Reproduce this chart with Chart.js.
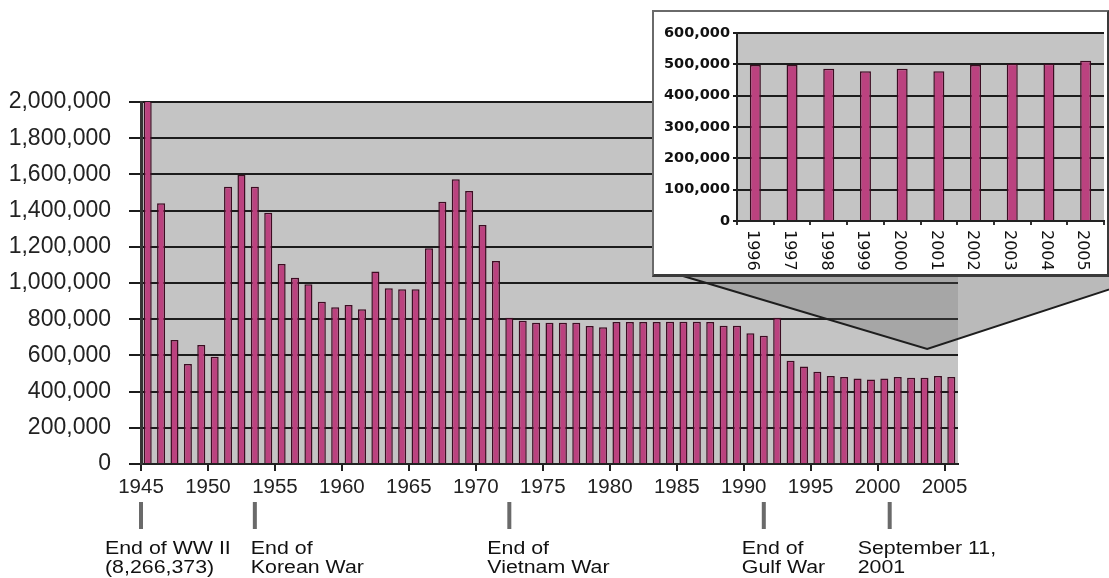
<!DOCTYPE html>
<html>
<head>
<meta charset="utf-8">
<script src="https://cdn.jsdelivr.net/npm/chart.js@4.4.1/dist/chart.umd.min.js"></script>
<style>
  body { margin: 0; background: #fff; overflow: hidden; }
  #wrap { position: relative; width: 1109px; height: 578px; }
  #main { position: absolute; left: 0; top: 0; }
  #insetBox { position: absolute; left: 652px; top: 10px; width: 453px; height: 262px;
    border: 2px solid #6a6a6a; border-bottom: 3px solid #3a3a3a; border-right-color: #3a3a3a;
    background: #fff; overflow: hidden; z-index: 2; }
</style>
</head>
<body>
<div id="wrap">
  <canvas id="main" width="1109" height="578"></canvas>
  <div id="insetBox"><canvas id="inset" width="453" height="262"></canvas></div>
</div>
<script>
// yearly values, 1945 - 2005
let years = [1945,1946,1947,1948,1949,1950,1951,1952,1953,1954,
  1955,1956,1957,1958,1959,1960,1961,1962,1963,1964,
  1965,1966,1967,1968,1969,1970,1971,1972,1973,1974,
  1975,1976,1977,1978,1979,1980,1981,1982,1983,1984,
  1985,1986,1987,1988,1989,1990,1991,1992,1993,1994,
  1995,1996,1997,1998,1999,2000,2001,2002,2003,2004,2005];

let values = [8266373,1440000,685000,552000,657000,593000,1532000,1597000,1532000,1388000,
  1105000,1029000,993000,897000,866000,878000,855000,1063000,971000,965000,
  965000,1192000,1449000,1573000,1508000,1320000,1121000,808000,792000,781000,
  781000,781000,781000,762000,755000,785000,785000,785000,785000,786000,
  786000,786000,785000,764000,764000,722000,709000,808000,571000,538000,
  510000,486000,481000,473000,467000,473000,481000,476000,476000,486000,481000];

// zoomed inset
let insetYears = ['1996','1997','1998','1999','2000','2001','2002','2003','2004','2005'];
let insetValues = [497500,497500,485800,478300,485800,478300,497500,501800,501800,511400];

// events under the axis
let eventYears = [1944.5, 1953, 1972, 1991, 2000.4];
let eventText = [
  ['End of WW II', '(8,266,373)'],
  ['End of', 'Korean War'],
  ['End of', 'Vietnam War'],
  ['End of', 'Gulf War'],
  ['September 11,', '2001']
];
let eventShift = [-36, -4, -22, -22, -32];

let barFill = '#bb427f';
let barEdge = '#3d0c22';
let plotGrey = '#c4c4c4';

function fmt(v){ return Number(v).toLocaleString('en-US'); }

let plotBack = {
  id: 'plotBack',
  beforeDraw(chart){
    let a = chart.chartArea, ctx = chart.ctx;
    ctx.save();
    ctx.fillStyle = plotGrey;
    ctx.fillRect(a.left, a.top, a.right - a.left, a.bottom - a.top);
    ctx.restore();
  }
};

function wedgePath(ctx, ax, ay){
  ctx.beginPath();
  ctx.moveTo(683, 276);
  ctx.lineTo(ax, ay);
  ctx.lineTo(1150, 276);
}

let zoomWedge = {
  id: 'zoomWedge',
  beforeDatasetsDraw(chart){
    let ctx = chart.ctx, a = chart.chartArea;
    let xs = chart.scales.x, ys = chart.scales.y;
    let ax = xs.getPixelForValue(58.2), ay = ys.getPixelForValue(635000);
    ctx.save();
    wedgePath(ctx, ax, ay);
    ctx.closePath();
    ctx.fillStyle = 'rgba(90,90,90,0.28)';
    ctx.fill();
    // a bit darker where it hangs past the plot
    ctx.save();
    ctx.beginPath();
    ctx.rect(a.right, 0, 400, 578);
    ctx.clip();
    wedgePath(ctx, ax, ay);
    ctx.closePath();
    ctx.fillStyle = 'rgba(90,90,90,0.2)';
    ctx.fill();
    ctx.restore();
    wedgePath(ctx, ax, ay);
    ctx.strokeStyle = '#1e1e1e';
    ctx.lineWidth = 2;
    ctx.stroke();
    ctx.restore();
  }
};

let events = {
  id: 'events',
  afterDraw(chart){
    let ctx = chart.ctx, xs = chart.scales.x;
    ctx.save();
    for (let i = 0; i < eventYears.length; i++) {
      let x = xs.getPixelForValue(eventYears[i] - 1945);
      ctx.fillStyle = '#6a6a6a';
      ctx.fillRect(x - 2, 502, 4, 27);
      ctx.fillStyle = '#111';
      ctx.font = '17.5px "Liberation Sans", Arial, sans-serif';
      ctx.textBaseline = 'alphabetic';
      for (let j = 0; j < eventText[i].length; j++) {
        ctx.save();
        ctx.translate(x + eventShift[i], 554 + j * 19);
        ctx.scale(1.22, 1);
        ctx.fillText(eventText[i][j], 0, 0);
        ctx.restore();
      }
    }
    ctx.restore();
  }
};

new Chart(document.getElementById('main'), {
  type: 'bar',
  data: {
    labels: years,
    datasets: [{
      data: values,
      backgroundColor: barFill,
      borderColor: barEdge,
      borderWidth: 1.5,
      barPercentage: 0.6,
      categoryPercentage: 1
    }]
  },
  options: {
    responsive: false,
    animation: false,
    layout: { padding: { top: 102, right: 151, left: 0, bottom: 0 } },
    plugins: { legend: { display: false }, tooltip: { enabled: false } },
    scales: {
      x: {
        grid: {
          drawOnChartArea: false, offset: true, tickLength: 7, lineWidth: 2,
          color: c => (c.index % 5 === 0 ? '#222' : 'rgba(0,0,0,0)')
        },
        border: { color: '#222', width: 2 },
        ticks: {
          autoSkip: false, maxRotation: 0, minRotation: 0,
          labelOffset: -6.7, padding: 4, color: '#222',
          font: { family: '"Liberation Sans", Arial, sans-serif', size: 20.5 },
          callback: (v, i) => (years[i] % 5 === 0 ? String(years[i]) : '')
        },
        afterFit: s => { s.height = 114; }
      },
      y: {
        min: 0, max: 2000000,
        grid: { color: '#1c1c1c', lineWidth: 2, tickLength: 12 },
        border: { color: '#333', width: 3 },
        ticks: {
          stepSize: 200000, padding: 18, color: '#222',
          font: { family: '"Liberation Sans", Arial, sans-serif', size: 23 },
          callback: v => fmt(v)
        },
        afterFit: s => { s.width = 141; }
      }
    }
  },
  plugins: [plotBack, zoomWedge, events]
});

let insetLabels = {
  id: 'insetLabels',
  afterDraw(chart){
    let ctx = chart.ctx, xs = chart.scales.x;
    ctx.save();
    ctx.fillStyle = '#111';
    ctx.font = '16px "DejaVu Sans", Verdana, sans-serif';
    ctx.textAlign = 'left';
    ctx.textBaseline = 'middle';
    insetYears.forEach((t, i) => {
      ctx.save();
      ctx.translate(xs.getPixelForValue(i) - 3, xs.top + 9);
      ctx.rotate(Math.PI / 2);
      ctx.fillText(t, 0, 0);
      ctx.restore();
    });
    ctx.restore();
  }
};

new Chart(document.getElementById('inset'), {
  type: 'bar',
  data: {
    labels: insetYears,
    datasets: [{
      data: insetValues,
      backgroundColor: barFill,
      borderColor: barEdge,
      borderWidth: 1.5,
      barPercentage: 0.3,
      categoryPercentage: 1
    }]
  },
  options: {
    responsive: false,
    animation: false,
    layout: { padding: { top: 21, right: 3, left: 0, bottom: 0 } },
    plugins: { legend: { display: false }, tooltip: { enabled: false } },
    scales: {
      x: {
        grid: { drawOnChartArea: false, offset: true, tickLength: 4, lineWidth: 2, color: '#333' },
        border: { color: '#222', width: 2 },
        ticks: { display: false },
        afterFit: s => { s.height = 53; }
      },
      y: {
        min: 0, max: 600000,
        grid: { color: '#1c1c1c', lineWidth: 2, tickLength: 4 },
        border: { color: '#222', width: 2 },
        ticks: {
          stepSize: 100000, padding: 3, color: '#111',
          font: { family: '"DejaVu Sans", Verdana, sans-serif', size: 14.5, weight: 'bold' },
          callback: v => fmt(v)
        },
        afterFit: s => { s.width = 83; }
      }
    }
  },
  plugins: [plotBack, insetLabels]
});
</script>
</body>
</html>
